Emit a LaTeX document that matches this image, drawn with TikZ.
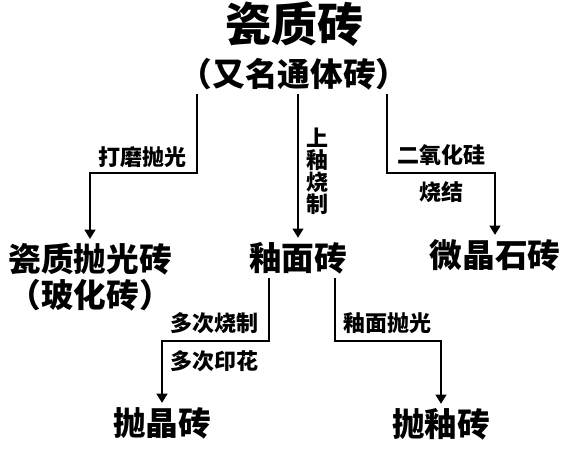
\documentclass[tikz,border=0pt]{standalone}
\usepackage{fontspec}
\usetikzlibrary{arrows.meta}
\newfontfamily\cjk{Noto Sans CJK SC}

\tikzset{
  tile/.style={inner sep=3pt, align=center, font=\cjk\bfseries\fontsize{24.5}{27}\selectfont},
  proc/.style={inner sep=1pt, align=center, font=\cjk\bfseries\fontsize{16.5}{16.5}\selectfont},
  flow/.style={line width=2pt, -{Triangle[width=8pt,length=7pt]}}
}

\begin{document}
\begin{tikzpicture}[x=0.75pt,y=-0.75pt]
\useasboundingbox (0,0) rectangle (574,463);

\node[tile, font=\cjk\bfseries\fontsize{34.5}{36}\selectfont] (cizhi) at (294,24) {瓷质砖};
\node[tile] (tongti) at (294,74) {（又名通体砖）};

\node[tile, anchor=north] (paoguang) at (90,239) {瓷质抛光砖\\（玻化砖）};
\node[tile] (youmian) at (298,258) {釉面砖};
\node[tile] (weijing) at (495,255) {微晶石砖};
\node[tile] (paojing) at (162,423) {抛晶砖};
\node[tile] (paoyou) at (441,424) {抛釉砖};

\coordinate (bendL) at (197,173);
\coordinate (bendR) at (387,173);
\coordinate (bendA) at (269,341);
\coordinate (bendB) at (335,341);

\draw[flow] (tongti.south -| bendL) -- (bendL) -| (paoguang.north);
\draw[flow] (tongti.south -| youmian) -- (youmian.north);
\draw[flow] (tongti.south -| bendR) -- (bendR) -| (weijing.north);
\draw[flow] (youmian.south -| bendA) -- (bendA) -| (paojing.north);
\draw[flow] (youmian.south -| bendB) -- (bendB) -| (paoyou.north);

\node[proc] (damo) at (142,157) {打磨抛光};
\node[proc, font=\cjk\bfseries\fontsize{16.5}{16.5}\selectfont] (shangyou) at (317,171) {上\\釉\\烧\\制};
\node[proc] (eryang) at (441,155) {二氧化硅};
\node[proc] (shaojie) at (441,192) {烧结};
\node[proc] (duoshao) at (214,323) {多次烧制};
\node[proc] (duoyin) at (214,361) {多次印花};
\node[proc] (youpao) at (387,323) {釉面抛光};
\end{tikzpicture}
\end{document}
